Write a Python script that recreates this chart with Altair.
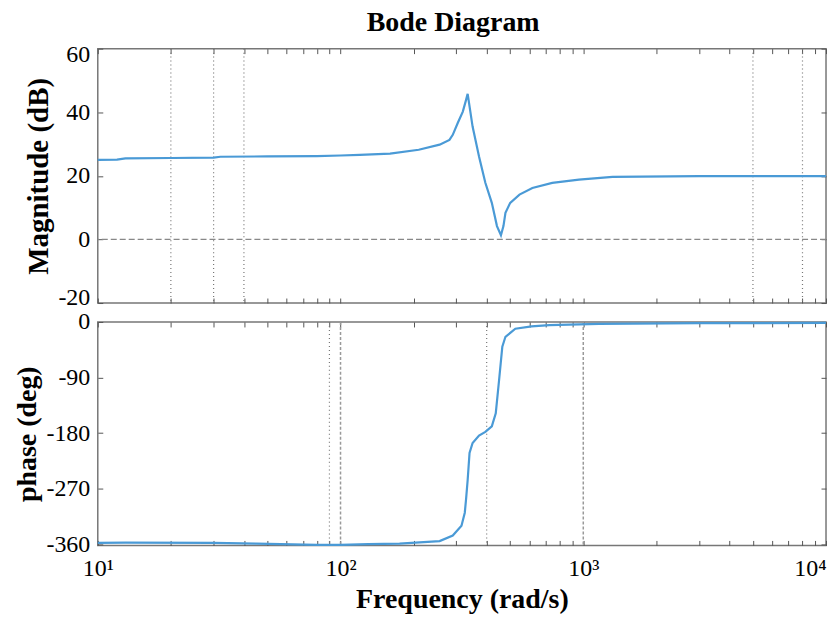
import altair as alt
import pandas as pd

# ---- data ----
mag_freq = [10, 12, 13, 20, 30, 32, 50, 80, 100, 120, 160, 210, 256, 281, 290, 304, 319, 329, 334,
            350, 372, 395, 420, 441, 458, 469, 478, 500, 546, 617, 745, 960, 1320, 3000, 10000]
mag_db = [25.0, 25.1, 25.5, 25.6, 25.7, 26.0, 26.1, 26.2, 26.4, 26.6, 27.0, 28.2, 29.8, 31.3, 32.9, 36.6, 40.2, 43.9, 45.8,
          35.5, 26.1, 17.8, 11.5, 4.2, 1.3, 4.2, 8.4, 11.5, 14.1, 16.2, 17.8, 18.8, 19.7, 19.9, 19.9]

ph_freq = [10, 13, 30, 45, 80, 100, 130, 175, 256, 290, 315, 325, 329, 334, 340, 350, 372, 395, 420, 436,
           450, 464, 478, 525, 612, 725, 1160, 3000, 10000]
ph_deg = [-358, -357.5, -358, -359, -361, -361, -360, -359, -355, -346, -330, -309, -287, -256, -212, -196, -184, -178,
          -169, -148, -94, -40, -24, -11, -7, -5, -3, -2, -1.5]

mag_dotted = [20, 30, 40, 5000, 8000]
mag_hline = [0]
ph_dotted = [90, 400]
ph_dashed = [100, 1000]

x_ticks = [m * d for d in (10, 100, 1000) for m in range(1, 10)] + [10000]
mag_ticks = [-20, 0, 20, 40, 60]
ph_ticks = [-360, -270, -180, -90, 0]

FONT = "Liberation Serif"
LINE = "#4a9ad6"
TICK = "#555555"

mag_df = pd.DataFrame({"freq": mag_freq, "mag": mag_db})
ph_df = pd.DataFrame({"freq": ph_freq, "phase": ph_deg})

x_scale = alt.Scale(type="log", domain=[10, 10000], nice=False)
label_expr = ("datum.value == 10 ? '10¹' : datum.value == 100 ? '10²' : "
              "datum.value == 1000 ? '10³' : datum.value == 10000 ? '10⁴' : ''")


def base_kw(orient, values, labels):
    return dict(orient=orient, values=values, labels=labels, offset=-5, tickSize=5,
                domain=False, grid=False, tickColor=TICK, tickWidth=1, labelOverlap=False,
                minExtent=0)


def x_axis(orient, labels, title=None):
    kw = base_kw(orient, x_ticks, labels)
    if labels:
        kw.update(labelExpr=label_expr, labelFont=FONT, labelFontSize=24, labelColor="black",
                  labelPadding=11, labelFlush=False,
                  labelAlign={"condition": {"test": "datum.value == 10000", "value": "right"},
                              "value": "center"})
    if title:
        kw.update(title=title, titleFont=FONT, titleFontSize=28, titleFontWeight="bold",
                  titleColor="black", titlePadding=5)
    else:
        kw.update(title=None)
    return alt.Axis(**kw)


def y_axis(orient, values, labels, title=None, title_size=28, flush=False):
    kw = base_kw(orient, values, labels)
    if labels:
        kw.update(labelExpr="'' + datum.value", labelFont=FONT, labelFontSize=24,
                  labelColor="black", labelPadding=8, labelFlush=flush)
        if flush:
            kw.update(labelFlushOffset=6)
    if title:
        kw.update(title=title, titleFont=FONT, titleFontSize=title_size, titleFontWeight="bold",
                  titleColor="black", titlePadding=4)
    else:
        kw.update(title=None)
    return alt.Axis(**kw)


def vrules(values, dash, color, width=1.2):
    return alt.Chart(pd.DataFrame({"freq": values})).mark_rule(
        strokeDash=dash, color=color, strokeWidth=width
    ).encode(x=alt.X("freq:Q", scale=x_scale, axis=None))


mag_y_scale = alt.Scale(domain=[-20, 60], nice=False)
ph_y_scale = alt.Scale(domain=[-362, 0], nice=False)

mag_main = alt.Chart(mag_df).mark_line(color=LINE, strokeWidth=2.2).encode(
    x=alt.X("freq:Q", scale=x_scale, axis=x_axis("bottom", False)),
    y=alt.Y("mag:Q", scale=mag_y_scale,
            axis=y_axis("left", mag_ticks, True, "Magnitude (dB)", 29, flush=True)),
)
mag_frame = alt.Chart(mag_df).mark_line(opacity=0).encode(
    x=alt.X("freq:Q", scale=x_scale, axis=x_axis("top", False)),
    y=alt.Y("mag:Q", scale=mag_y_scale, axis=y_axis("right", mag_ticks, False)),
)
mag_h = alt.Chart(pd.DataFrame({"mag": mag_hline})).mark_rule(
    strokeDash=[6, 3], color="#888888", strokeWidth=1.2
).encode(y=alt.Y("mag:Q", scale=mag_y_scale, axis=None))

top = alt.layer(
    vrules(mag_dotted, [1, 3], "#777777"),
    mag_h,
    mag_main,
    mag_frame,
).resolve_axis(x="independent", y="independent").properties(width=730, height=255)

ph_main = alt.Chart(ph_df).mark_line(color=LINE, strokeWidth=2.2).encode(
    x=alt.X("freq:Q", scale=x_scale, axis=x_axis("bottom", True, "Frequency (rad/s)")),
    y=alt.Y("phase:Q", scale=ph_y_scale, axis=y_axis("left", ph_ticks, True, "phase (deg)")),
)
ph_frame = alt.Chart(ph_df).mark_line(opacity=0).encode(
    x=alt.X("freq:Q", scale=x_scale, axis=x_axis("top", False)),
    y=alt.Y("phase:Q", scale=ph_y_scale, axis=y_axis("right", ph_ticks, False)),
)

bottom = alt.layer(
    vrules(ph_dotted, [1, 3], "#777777"),
    vrules(ph_dashed, [3, 2], "#999999", 1.5),
    ph_main,
    ph_frame,
).resolve_axis(x="independent", y="independent").properties(width=730, height=224)

chart = alt.vconcat(top, bottom, spacing=19, bounds="flush").properties(
    title=alt.TitleParams("Bode Diagram", font=FONT, fontSize=28, fontWeight="bold",
                          color="black", anchor="middle", offset=5, dx=31),
    padding={"left": 5, "top": 0, "right": 0, "bottom": 0},
).configure_view(stroke="#777777", strokeWidth=1.5)

chart.save("out.html", embed_options={"renderer": "svg", "actions": False})
